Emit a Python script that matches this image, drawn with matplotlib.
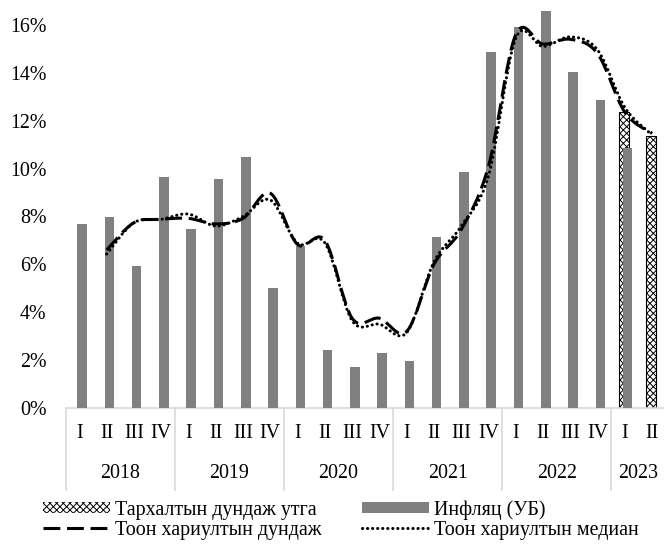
import numpy as np
import matplotlib.pyplot as plt
from matplotlib.path import Path
from matplotlib.patches import PathPatch, Patch
from matplotlib.lines import Line2D

plt.rcParams['font.family'] = ['Liberation Serif', 'DejaVu Serif']
plt.rcParams['hatch.linewidth'] = 0.7

# data (percent)
quarters = ['I', 'II', 'III', 'IV'] * 5 + ['I', 'II']
years = ['2018', '2019', '2020', '2021', '2022', '2023']
year_len = [4, 4, 4, 4, 4, 2]

inflation = [7.69, 7.99, 5.92, 9.66, 7.46, 9.58, 10.47, 5.01, 6.78, 2.41, 1.71,
             2.28, 1.96, 7.13, 9.86, 14.86, 15.93, 16.6, 14.05, 12.87, 10.87, None]
dist_mean = [None] * 20 + [12.36, 11.36]
resp_mean = [None, 6.6, 7.74, 7.88, 7.92, 7.69, 7.92, 8.97, 6.83, 7.0, 3.75,
             3.75, 3.2, 6.0, 7.45, 10.1, 15.6, 15.2, 15.4, 14.8, 12.35, 11.47]
resp_median = [None, 6.43, 7.74, 7.88, 8.1, 7.6, 8.0, 8.69, 6.88, 6.9, 3.65,
               3.5, 3.15, 6.1, 7.6, 9.7, 15.45, 15.1, 15.5, 14.95, 12.55, 11.4]

labels = ['Тархалтын дундаж утга', 'Инфляц (УБ)',
          'Тоон хариултын дундаж', 'Тоон хариултын медиан']


def to_arr(v):
    return np.array([np.nan if a is None else a for a in v], dtype=float)


def smooth_path(xs, ys):
    # excel-like smoothed line: bezier segments through the points
    pts = np.column_stack([xs, ys])
    n = len(pts)
    verts = [pts[0]]
    codes = [Path.MOVETO]
    for i in range(n - 1):
        p0 = pts[max(i - 1, 0)]
        p1 = pts[i]
        p2 = pts[i + 1]
        p3 = pts[min(i + 2, n - 1)]
        verts += [p1 + (p2 - p0) / 6, p2 - (p3 - p1) / 6, p2]
        codes += [Path.CURVE4] * 3
    return Path(verts, codes)


fig = plt.figure(figsize=(6.64, 5.44), dpi=100)
W, H = 664, 544
left, right, bottom, top = 65.7, 665.8, 408, 1
ax = fig.add_axes([left / W, 1 - bottom / H, (right - left) / W, (bottom - top) / H])

x = np.arange(len(quarters)) + 0.5
infl = to_arr(inflation)
dm = to_arr(dist_mean)
m1 = ~np.isnan(dm)
m2 = ~np.isnan(infl)

ax.bar(x[m1] - 0.04, dm[m1], width=0.38, color='white', edgecolor='black',
       hatch='xxxxx', linewidth=0.8, zorder=2)
ax.bar(x[m2] + 0.1, infl[m2], width=0.35, color='#808080', zorder=3)

for vals, ls in [(resp_mean, (0, (5.5, 2.2))), (resp_median, (0, (0.05, 1.6)))]:
    v = to_arr(vals)
    ok = ~np.isnan(v)
    pp = PathPatch(smooth_path(x[ok], v[ok]), fill=False, edgecolor='black',
                   linewidth=2.2, linestyle=ls, capstyle='round' if ls[1][0] < 1 else 'butt',
                   zorder=4)
    ax.add_patch(pp)

ax.set_xlim(0, len(quarters))
ax.set_ylim(0, 17)
ax.set_yticks(np.arange(0, 17, 2))
ax.set_yticklabels([f'{t}%' for t in range(0, 17, 2)], fontsize=14.4)
ax.tick_params(axis='y', length=0, pad=14)
ax.set_xticks([])
for s in ['left', 'right', 'top']:
    ax.spines[s].set_visible(False)
ax.spines['bottom'].set_color('#d9d9d9')
ax.spines['bottom'].set_linewidth(1.2)

# multi-level category axis
tr = ax.get_xaxis_transform()
ph = bottom - top
for xi, q in zip(x, quarters):
    ax.text(xi, -(433 - bottom) / ph, q, transform=tr, ha='center', va='center',
            fontsize=14.4)
pos = 0
edges = [0]
for yr, n in zip(years, year_len):
    ax.text(pos + n / 2, -(474 - bottom) / ph, yr, transform=tr, ha='center',
            va='center', fontsize=14.4)
    pos += n
    edges.append(pos)
for e in edges:
    ax.plot([e, e], [0, -(490 - bottom) / ph], transform=tr, color='#d9d9d9',
            lw=1.2, clip_on=False)

handles = [Patch(facecolor='white', edgecolor='black', hatch='xxxxx', linewidth=0),
           Line2D([], [], color='black', lw=2.2, linestyle=(0, (5.5, 2.2))),
           Patch(facecolor='#808080', edgecolor='none'),
           Line2D([], [], color='black', lw=2.2, linestyle=(0, (0.05, 1.6)),
                  dash_capstyle='round')]
fig.legend(handles, [labels[0], labels[2], labels[1], labels[3]], ncol=2,
           loc='upper left', bbox_to_anchor=(33 / W, 1 - 490 / H), frameon=False,
           fontsize=14.4, borderpad=0, handlelength=3.35, handletextpad=0.25,
           columnspacing=2.0, labelspacing=0.05, handleheight=0.5)

fig.savefig('out.png', dpi=100)
